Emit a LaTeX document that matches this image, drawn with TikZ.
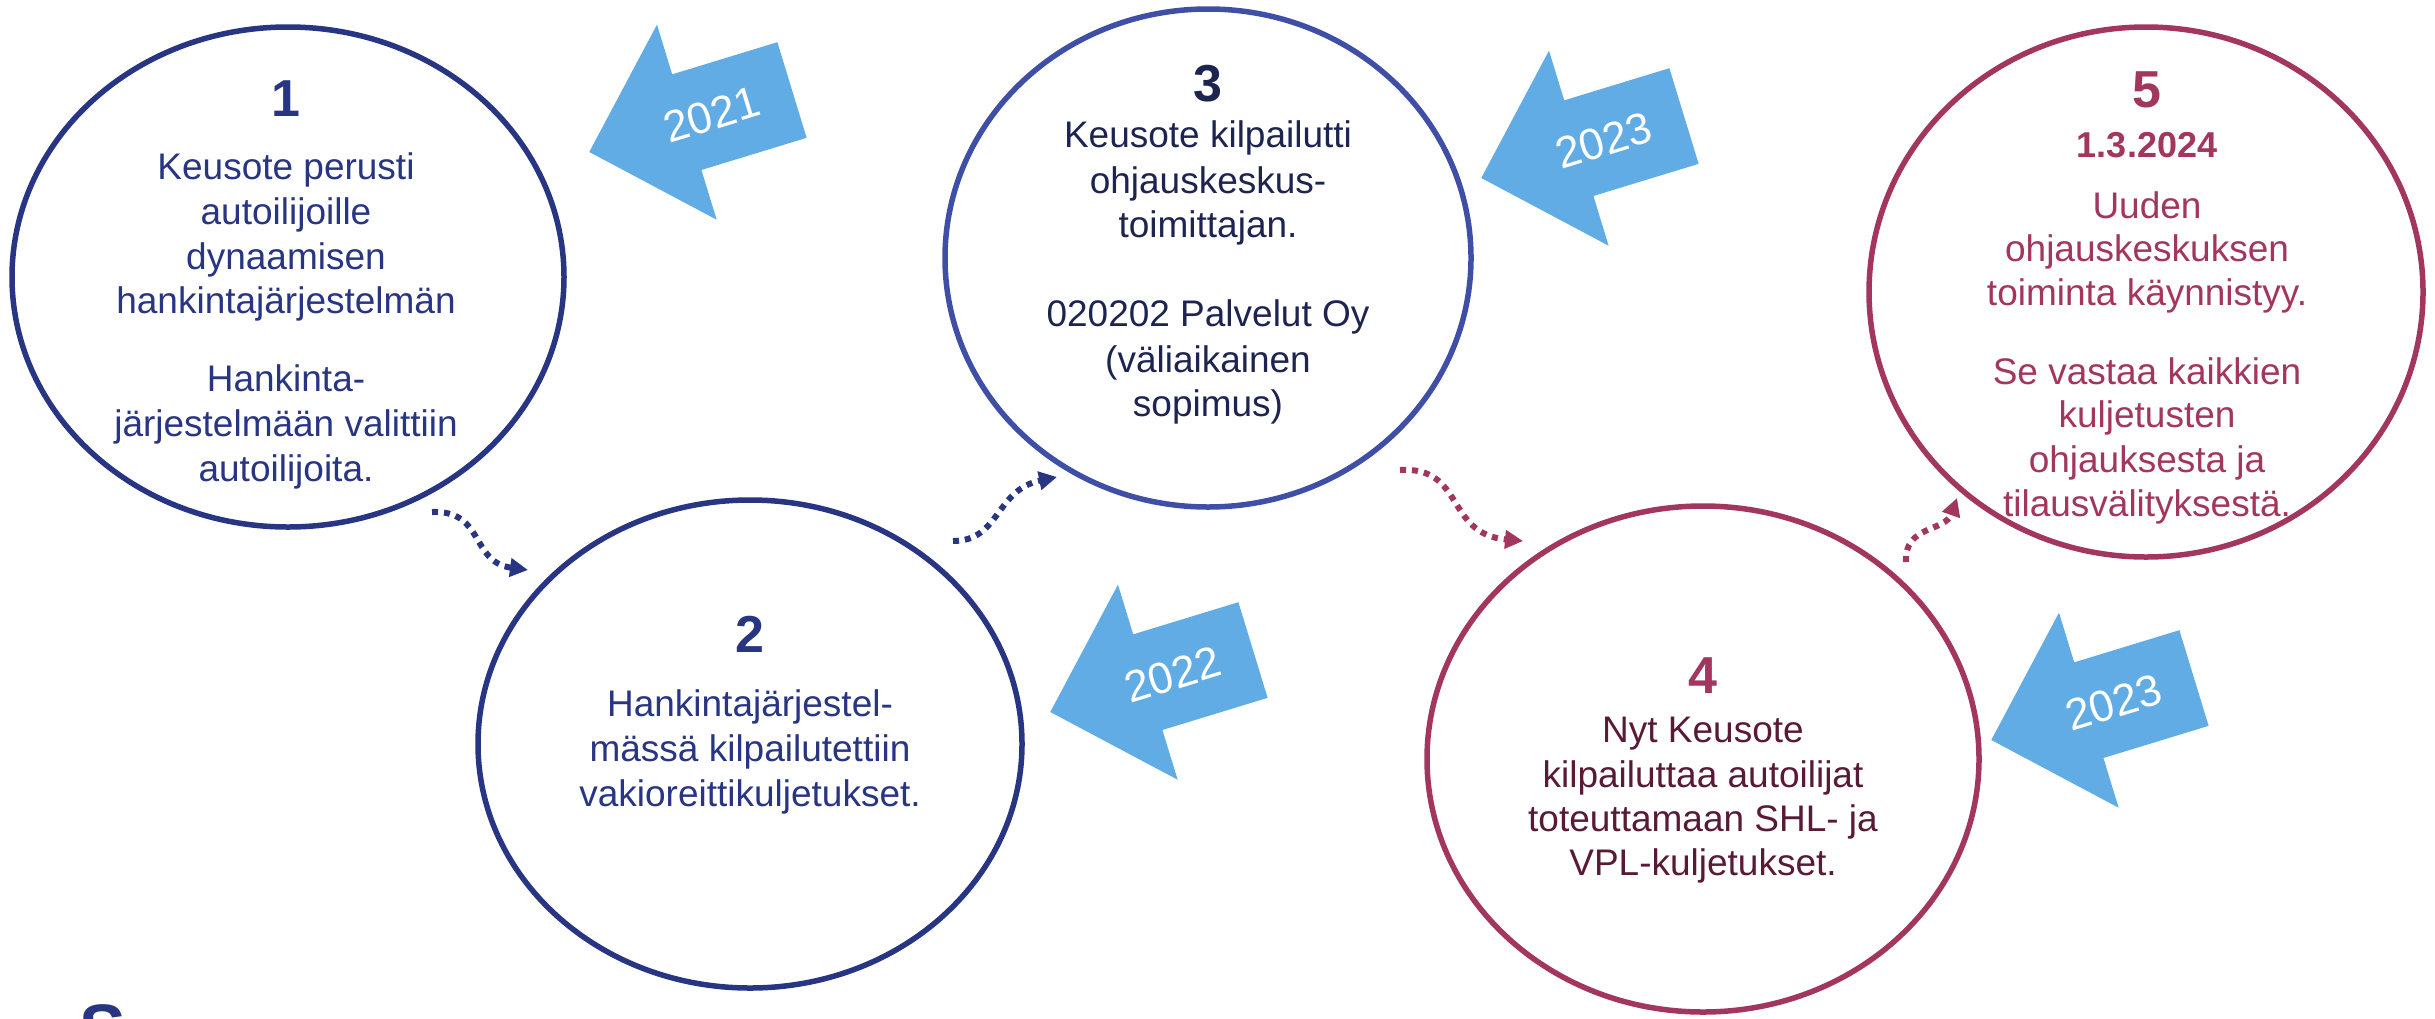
\documentclass[tikz,border=0pt]{standalone}
\usepackage{fontspec}
\setmainfont{Liberation Sans}
\usetikzlibrary{arrows.meta,shapes.geometric}
\definecolor{navy}{HTML}{283583}
\definecolor{ringthree}{HTML}{3F4FA6}
\definecolor{inkthree}{HTML}{1E2450}
\definecolor{plum}{HTML}{A3365F}
\definecolor{inkfour}{HTML}{581A36}
\definecolor{sky}{HTML}{62ACE5}
\begin{document}
\begin{tikzpicture}[x=1pt,y=-1pt,
  ring/.style={draw, ellipse, line width=5.5pt, inner sep=0pt},
  numtxt/.style={font=\bfseries\fontsize{52}{52}\selectfont, anchor=base, inner sep=0pt},
  datetxt/.style={font=\bfseries\fontsize{36}{36}\selectfont, anchor=base, inner sep=0pt},
  bodytxt/.style={font=\fontsize{37}{44}\selectfont, anchor=base, inner sep=0pt},
  dotline/.style={line width=6pt, dash pattern=on 6pt off 6pt, -{Triangle[length=18pt,width=18pt]}},
  yeartxt/.style={font=\fontsize{44}{44}\selectfont, text=white, inner sep=0pt},
  yeararrow/.pic={
    \fill[sky] (0,50) -- (-110,50) -- (-110,102) -- (-212,0) -- (-110,-102) -- (-110,-50) -- (0,-50) -- cycle;
    \node[yeartxt, rotate=17] (-label) at (-84,0) {#1};
  }]
\useasboundingbox (0,0) rectangle (2435,1018);
\fill[white] (0,0) rectangle (2435,1018);

% circles
\node[ring, draw=navy, minimum width=552pt, minimum height=500pt] (c1) at (288,277) {};
\node[ring, draw=navy, minimum width=544pt, minimum height=488pt] (c2) at (750,744) {};
\node[ring, draw=ringthree, minimum width=526pt, minimum height=498pt] (c3) at (1208,258) {};
\node[ring, draw=plum, minimum width=552pt, minimum height=506pt] (c4) at (1703,759) {};
\node[ring, draw=plum, minimum width=554pt, minimum height=530pt] (c5) at (2146,292) {};

% circle 1 text
\node[numtxt, text=navy] (n1) at (286,116) {1};
\foreach \y/\t [count=\i] in {179/{Keusote perusti}, 224/{autoilijoille}, 269/{dynaamisen}, 313/{hankintajärjestelmän}, 391/{Hankinta-}, 436/{järjestelmään valittiin}, 481/{autoilijoita.}}
  \node[bodytxt, text=navy] (t1l\i) at (286,\y) {\t};

% circle 2 text
\node[numtxt, text=navy] (n2) at (750,652) {2};
\foreach \y/\t [count=\i] in {716/{Hankintajärjestel-}, 761/{mässä kilpailutettiin}, 806/{vakioreittikuljetukset.}}
  \node[bodytxt, text=navy] (t2l\i) at (750,\y) {\t};

% circle 3 text
\node[numtxt, text=inkthree] (n3) at (1208,101) {3};
\foreach \y/\t [count=\i] in {147/{Keusote kilpailutti}, 193/{ohjauskeskus-}, 237/{toimittajan.}, 326/{020202 Palvelut Oy}, 372/{(väliaikainen}, 416/{sopimus)}}
  \node[bodytxt, text=inkthree] (t3l\i) at (1208,\y) {\t};

% circle 4 text
\node[numtxt, text=plum] (n4) at (1703,693) {4};
\foreach \y/\t [count=\i] in {742/{Nyt Keusote}, 787/{kilpailuttaa autoilijat}, 831/{toteuttamaan SHL- ja}, 875/{VPL-kuljetukset.}}
  \node[bodytxt, text=inkfour] (t4l\i) at (1703,\y) {\t};

% circle 5 text
\node[numtxt, text=plum] (n5) at (2147,107) {5};
\node[datetxt, text=plum] (d5) at (2147,157) {1.3.2024};
\foreach \y/\t [count=\i] in {218/{Uuden}, 261/{ohjauskeskuksen}, 305/{toiminta käynnistyy.}, 384/{Se vastaa kaikkien}, 427/{kuljetusten}, 472/{ohjauksesta ja}, 516/{tilausvälityksestä.}}
  \node[bodytxt, text=plum] (t5l\i) at (2147,\y) {\t};

% year arrows
\pic[rotate=17] (ya) at (792,90) {yeararrow=2021};
\pic[rotate=17] (yb) at (1253,650) {yeararrow=2022};
\pic[rotate=17] (yc) at (1684,116) {yeararrow=2023};
\pic[rotate=17] (yd) at (2194,678) {yeararrow=2023};

% dotted connectors
\coordinate (s12) at (432,512);
\coordinate (e12) at (528,570);
\coordinate (s23) at (953,541);
\coordinate (e23) at (1057,477);
\coordinate (s34) at (1400,470);
\coordinate (e34) at (1523,541);
\coordinate (s45) at (1906,562);
\coordinate (e45) at (1957,498);
\draw[dotline, navy] (s12) .. controls (485,510) and (470,562) .. (e12);
\draw[dotline, navy] (s23) .. controls (1000,541) and (995,490) .. (e23);
\draw[dotline, plum] (s34) .. controls (1465,466) and (1445,534) .. (e34);
\draw[dotline, plum] (s45) .. controls (1904,525) and (1945,532) .. (e45);

% cut-off letter at bottom left
\begin{scope}
\clip (0,0) rectangle (2435,1018);
\node[font=\bfseries\fontsize{70}{70}\selectfont, text=navy, anchor=north, inner sep=0pt] (sfrag) at (103,1004) {S};
\end{scope}
\end{tikzpicture}
\end{document}
